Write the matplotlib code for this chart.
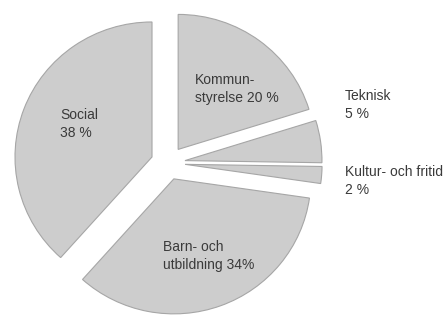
import matplotlib
matplotlib.use("Agg")
import matplotlib.pyplot as plt

categories = ["Kommunstyrelse", "Teknisk", "Kultur- och fritid", "Barn- och utbildning", "Social"]
values = [20, 5, 2, 34, 38]
labels = ["Kommun-\nstyrelse 20 %", "Teknisk\n5 %", "Kultur- och fritid\n2 %",
          "Barn- och\nutbildning 34%", "Social\n38 %"]

W, H, DPI = 447, 316, 100
fig = plt.figure(figsize=(W / DPI, H / DPI), dpi=DPI)
ax = fig.add_axes([0, 0, 1, 1])
ax.axis("off")

RX, RY = 137.0, 135.0
cx, cy = 168.0, 163.0
explode = [0.125] * len(values)
wedges, _ = ax.pie(values, startangle=90, counterclock=False, explode=explode,
                   colors=["#cdcdcd"] * len(values),
                   wedgeprops=dict(edgecolor="#a6a6a6", linewidth=0.8))
ax.set_aspect("auto")
ax.set_xlim(-cx / RX, (W - cx) / RX)
ax.set_ylim(-(H - cy) / RY, cy / RY)

def px(x, y):
    return ((x - cx) / RX, (cy - y) / RY)

tkw = dict(fontsize=10, family=["Liberation Sans", "DejaVu Sans"], color="#3a3a3a",
           ha="left", va="center", linespacing=1.3)
ax.text(*px(195, 89), labels[0], **tkw)
ax.text(*px(345, 105), labels[1], **tkw)
ax.text(*px(345, 181), labels[2], **tkw)
ax.text(*px(163, 256), labels[3], **tkw)
ax.text(*px(60, 124), labels[4], **tkw)

fig.savefig("out.png", dpi=DPI)
